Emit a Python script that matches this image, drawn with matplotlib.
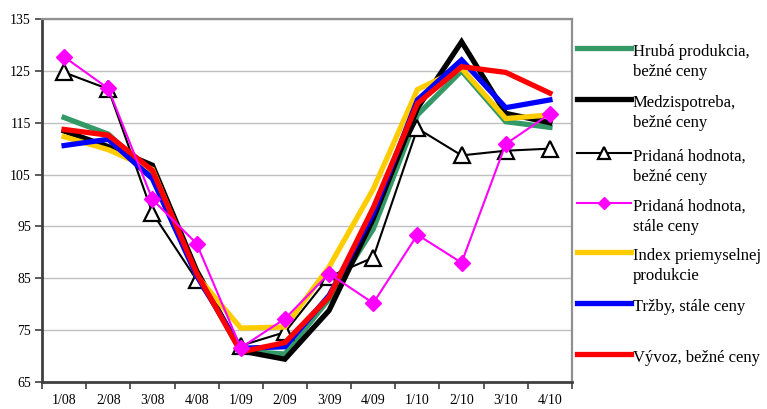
import matplotlib
matplotlib.use("Agg")
import matplotlib.pyplot as plt
from matplotlib.lines import Line2D
import numpy as np

plt.rcParams['font.family'] = ['Liberation Serif', 'DejaVu Serif']

quarters = ["1/08", "2/08", "3/08", "4/08", "1/09", "2/09",
            "3/09", "4/09", "1/10", "2/10", "3/10", "4/10"]

hruba_produkcia = [116.0, 112.8, 105.0, 86.0, 71.0, 70.4, 81.0, 94.5, 116.5, 125.0, 115.2, 114.1]
medzispotreba = [113.4, 110.4, 106.8, 86.5, 71.0, 69.4, 78.8, 96.5, 117.8, 130.6, 116.8, 115.0]
pridana_bezne = [124.7, 121.5, 97.6, 84.7, 72.0, 74.6, 85.3, 89.0, 113.9, 108.7, 109.6, 110.0]
pridana_stale = [127.7, 121.6, 100.2, 91.7, 71.6, 77.2, 85.9, 80.2, 93.4, 88.0, 110.9, 116.7]
index_priem = [112.3, 109.8, 106.0, 85.5, 75.4, 75.6, 87.2, 102.2, 121.4, 125.5, 115.8, 116.5]
trzby = [110.6, 111.8, 104.2, 85.5, 71.5, 71.8, 81.7, 97.5, 119.4, 127.1, 117.9, 119.4]
vyvoz = [113.7, 112.6, 105.8, 86.0, 70.8, 72.6, 81.4, 98.6, 118.7, 125.8, 124.7, 120.7]

labels = ["Hrubá produkcia,\nbežné ceny",
          "Medzispotreba,\nbežné ceny",
          "Pridaná hodnota,\nbežné ceny",
          "Pridaná hodnota,\nstále ceny",
          "Index priemyselnej\nprodukcie",
          "Tržby, stále ceny",
          "Vývoz, bežné ceny"]

# style per series: color, linewidth, marker
styles = [
    dict(color="#339966", lw=3.8, marker=None),
    dict(color="black", lw=3.8, marker=None),
    dict(color="black", lw=1.5, marker="^", ms=11, mfc="white", mec="black", mew=1.6),
    dict(color="#FF00FF", lw=1.5, marker="D", ms=8, mfc="#FF00FF", mec="#FF00FF"),
    dict(color="#FFCC00", lw=3.8, marker=None),
    dict(color="#0000FF", lw=3.8, marker=None),
    dict(color="#FF0000", lw=3.8, marker=None),
]
series = [hruba_produkcia, medzispotreba, pridana_bezne, pridana_stale,
          index_priem, trzby, vyvoz]

W, H = 767, 409
fig = plt.figure(figsize=(W / 100, H / 100), dpi=100)
ax = fig.add_axes([42 / W, 1 - 382 / H, (572 - 42) / W, (382 - 19) / H])

x = np.arange(len(quarters))
zorders = [3, 3, 4, 9, 5, 6, 7]
for vals, st, z in zip(series, styles, zorders):
    st = dict(st)
    c = st.pop("color")
    lw = st.pop("lw")
    ax.plot(x, vals, color=c, lw=lw, zorder=z, solid_joinstyle="miter", **st)

ax.set_xlim(-0.5, len(quarters) - 0.5)
ax.set_ylim(65, 135)
ax.set_yticks(np.arange(65, 136, 10))
ax.set_xticks(x)
ax.set_xticklabels(quarters)
ax.set_xticks(np.arange(-0.5, len(quarters), 1), minor=True)
ax.tick_params(axis="x", which="major", length=0, pad=9, labelsize=10)
ax.tick_params(axis="x", which="minor", length=5, width=1.2, color="#404040", direction="out")
ax.tick_params(axis="y", length=5, width=1.2, color="#404040", labelsize=10, pad=3)

ax.grid(axis="y", color="#c0c0c0", lw=1.0)
ax.set_axisbelow(True)
for s in ["left", "bottom"]:
    ax.spines[s].set_color("#404040")
    ax.spines[s].set_linewidth(2.0)
for s in ["top", "right"]:
    ax.spines[s].set_color("#909090")
    ax.spines[s].set_linewidth(1.6)

# legend drawn at the right side
handle_y = [48, 99, 153, 203, 252, 303, 354]
for lab, st, hy in zip(labels, styles, handle_y):
    yy = 1 - hy / H
    st = dict(st)
    c = st.pop("color")
    lw = st.pop("lw")
    mk = st.pop("marker")
    fig.add_artist(Line2D([577 / W, 631 / W], [yy, yy], color=c, lw=lw,
                          transform=fig.transFigure))
    if mk is not None:
        st["ms"] = st["ms"] * 0.75
        fig.add_artist(Line2D([604 / W], [yy], marker=mk, color=c, lw=0,
                              transform=fig.transFigure, **st))
    for i, part in enumerate(lab.split("\n")):
        fig.text(633 / W, 1 - (hy + 8 + 20 * i) / H, part, fontsize=12,
                 va="baseline", ha="left")

fig.savefig("out.png", dpi=100)
